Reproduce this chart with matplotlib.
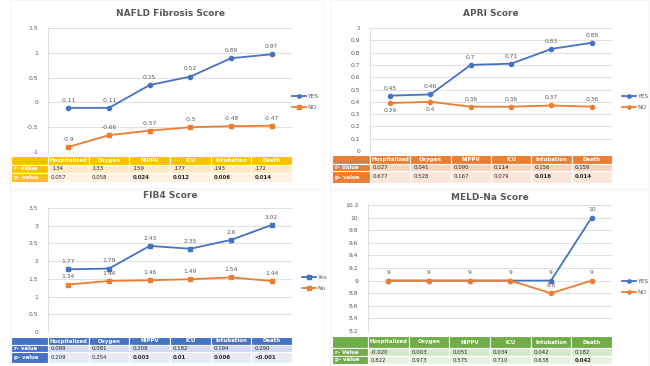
import matplotlib.pyplot as plt
from matplotlib.patches import Rectangle

W, H = 650, 366

categories = ["Hospitalized", "Oxygen", "NIPPV", "ICU", "Intubation", "Death"]

# NAFLD Fibrosis Score
nafld_yes = [-0.11, -0.11, 0.35, 0.52, 0.89, 0.97]
nafld_no = [-0.9, -0.66, -0.57, -0.5, -0.48, -0.47]
nafld_r = [".134", ".133", ".159", ".177", ".193", ".172"]
nafld_p = ["0.057", "0.058", "0.024", "0.012", "0.006", "0.014"]

# APRI Score
apri_yes = [0.45, 0.46, 0.7, 0.71, 0.83, 0.88]
apri_no = [0.39, 0.4, 0.36, 0.36, 0.37, 0.36]
apri_r = ["0.027", "0.041", "0.090", "0.114", "0.156", "0.159"]
apri_p = ["0.677", "0.528", "0.167", "0.079", "0.016", "0.014"]

# FIB4 Score
fib4_yes = [1.77, 1.79, 2.43, 2.35, 2.6, 3.02]
fib4_no = [1.34, 1.44, 1.46, 1.49, 1.54, 1.44]
fib4_r = ["0.089", "0.081", "0.208", "0.182", "0.194", "0.290"]
fib4_p = ["0.209", "0.254", "0.003", "0.01", "0.006", "<0.001"]

# MELD-Na Score
meld_yes = [9, 9, 9, 9, 9, 10]
meld_no = [9, 9, 9, 9, 8.8, 9]
meld_r = ["-0.020", "0.003", "0.051", "0.034", "0.042", "0.182"]
meld_p = ["0.822", "0.973", "0.575", "0.710", "0.638", "0.042"]

BLUE = "#4472C4"
ORANGE = "#ED7D31"
GREY = "#595959"

fig = plt.figure(figsize=(W / 100, H / 100), dpi=100)


def px_axes(x0, y0, x1, y1):
    return fig.add_axes([x0 / W, 1 - y1 / H, (x1 - x0) / W, (y1 - y0) / H])


def line_panel(rect, title, title_y, yes, no, ylim, step, fmt, names,
               markers, legend_xy, no_below=()):
    x0, y0, x1, y1 = rect
    ax = px_axes(x0, y0, x1, y1)
    xs = range(len(yes))
    ax.plot(xs, yes, color=BLUE, marker=markers[0], ms=3, lw=1.3, label=names[0])
    ax.plot(xs, no, color=ORANGE, marker=markers[1], ms=3, lw=1.3, label=names[1])
    ax.set_xlim(-0.5, len(yes) - 0.5)
    ax.set_ylim(*ylim)
    n = int(round((ylim[1] - ylim[0]) / step))
    ticks = [ylim[0] + i * step for i in range(n + 1)]
    ax.set_yticks(ticks)
    ax.set_yticklabels([fmt(t) for t in ticks], fontsize=4.3, color=GREY)
    ax.set_xticks([])
    ax.grid(axis="y", color="#D9D9D9", lw=0.6)
    ax.set_axisbelow(True)
    for s in ("top", "right", "bottom"):
        ax.spines[s].set_visible(False)
    ax.spines["left"].set_color("#D9D9D9")
    ax.spines["left"].set_linewidth(0.6)
    ax.tick_params(axis="y", length=0, pad=7)
    for i, (a, b) in enumerate(zip(yes, no)):
        ax.annotate(f"{a:g}", (i, a), xytext=(0, 5.5), textcoords="offset points",
                    ha="center", va="center", fontsize=4.3, color=GREY)
        if a == b:
            continue
        dy = -5.5 if i in no_below else 5.5
        ax.annotate(f"{b:g}", (i, b), xytext=(0, dy), textcoords="offset points",
                    ha="center", va="center", fontsize=4.3, color=GREY)
    fig.text((x0 + x1) / 2 / W, 1 - title_y / H, title, ha="center", va="center",
             fontsize=6.5, fontweight="bold", color=GREY)
    ax.legend(loc="center left", bbox_to_anchor=(legend_xy[0] / W, 1 - legend_xy[1] / H),
              bbox_transform=fig.transFigure, frameon=False, fontsize=4.3,
              handlelength=2.2, handletextpad=0.3, labelspacing=0.9,
              markerscale=0.8, borderaxespad=0, labelcolor=GREY)
    return ax


def table_panel(x0, x_axis, x1, rows_y, head, light, r_label, r_vals, p_vals, bold_from):
    ax = px_axes(x0, rows_y[0], x1, rows_y[3])
    ax.set_xlim(x0, x1)
    ax.set_ylim(rows_y[3], rows_y[0])
    ax.axis("off")
    ncol = len(categories)
    cw = (x1 - x_axis) / ncol
    edges = [x0] + [x_axis + i * cw for i in range(ncol + 1)]
    fills = [[head] * (ncol + 1),
             [head] + [light[0]] * ncol,
             [head] + [light[1]] * ncol]
    texts = [[""] + categories, [r_label] + r_vals, ["p- value"] + p_vals]
    for r in range(3):
        ya, yb = rows_y[r], rows_y[r + 1]
        for c in range(ncol + 1):
            xa, xb = edges[c], edges[c + 1]
            ax.add_patch(Rectangle((xa, ya), xb - xa, yb - ya, facecolor=fills[r][c],
                                   edgecolor="white", lw=0.8))
            t = texts[r][c]
            if r == 0 or c == 0:
                color, weight = "white", "bold"
            else:
                color = "#262626"
                weight = "bold" if (r == 2 and c - 1 >= bold_from) else "normal"
            if r == 0:
                ax.text((xa + xb) / 2, (ya + yb) / 2, t, ha="center", va="center",
                        fontsize=3.9, color=color, fontweight=weight)
            else:
                ax.text(xa + 3, (ya + yb) / 2, t, ha="left", va="center",
                        fontsize=3.9, color=color, fontweight=weight)


def frame(x0, y0, x1, y1):
    fig.add_artist(Rectangle((x0 / W, 1 - y1 / H), (x1 - x0) / W, (y1 - y0) / H,
                             transform=fig.transFigure, fill=False,
                             edgecolor="#F0F0F0", lw=0.5))


frame(10, 0, 323, 188)
frame(10, 190, 323, 366)
frame(330, 0, 648, 188)
frame(330, 190, 648, 366)

# top left
line_panel((48, 28, 292, 152), "NAFLD Fibrosis Score", 14, nafld_yes, nafld_no,
           (-1, 1.5), 0.5, lambda t: f"{t:g}", ("YES", "NO"), ("o", "s"), (290, 102))
table_panel(11, 48, 292, (156, 165, 173, 182), "#FFC000", ("#FDE9C4", "#FEF3E2"),
            "r- value", nafld_r, nafld_p, 2)

# top right
line_panel((370, 28, 612, 151), "APRI Score", 14, apri_yes, apri_no,
           (0, 1), 0.1, lambda t: f"{t:.1f}".rstrip("0").rstrip(".") if t else "0",
           ("YES", "NO"), ("o", "o"), (620, 102), no_below=(0, 1))
table_panel(332, 370, 612, (155, 164, 171, 183), ORANGE, ("#F8D3BA", "#FBE7DA"),
            "r- Value", apri_r, apri_p, 4)

# bottom left
line_panel((48, 208, 292, 332), "FIB4 Score", 195, fib4_yes, fib4_no,
           (0, 3.5), 0.5, lambda t: f"{t:g}", ("Yes", "No"), ("s", "s"), (300, 283))
table_panel(11, 48, 292, (337, 345, 352, 363), BLUE, ("#D0DBF0", "#E6ECF7"),
            "r- value", fib4_r, fib4_p, 2)

# bottom right
line_panel((368, 205, 612, 331), "MELD-Na Score", 197, meld_yes, meld_no,
           (8.2, 10.2), 0.2, lambda t: f"{t:.1f}".rstrip("0").rstrip("."),
           ("YES", "NO"), ("o", "o"), (620, 287))
table_panel(332, 368, 612, (336, 348, 356, 364), "#70AD47", ("#D5E8CB", "#E8F2E2"),
            "r- Value", meld_r, meld_p, 5)

fig.savefig("out.png", dpi=100)
